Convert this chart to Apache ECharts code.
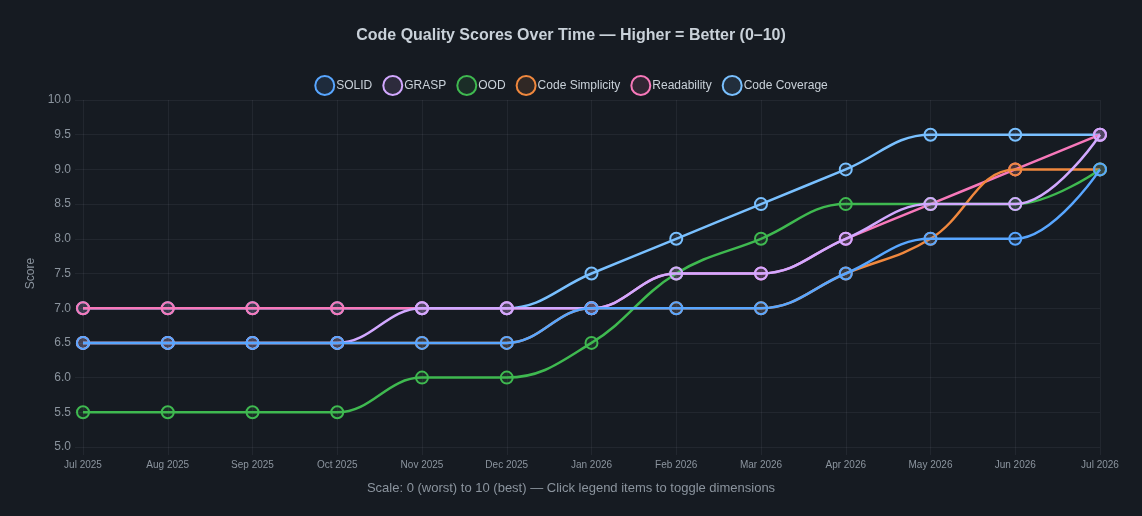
<!DOCTYPE html>
<html>
<head>
    <meta charset="utf-8">
    <title>Code Quality Scores Over Time</title>
    <script src="https://cdn.jsdelivr.net/npm/echarts@6/dist/echarts.min.js"></script>
    <style>
        html, body { margin: 0; padding: 0; background: #161b22; }
        #root { width: 1142px; height: 516px; }
    </style>
</head>
<body>
<div id="root"></div>
<script type="text/javascript">
var months = ['Jul 2025', 'Aug 2025', 'Sep 2025', 'Oct 2025', 'Nov 2025', 'Dec 2025', 'Jan 2026',
    'Feb 2026', 'Mar 2026', 'Apr 2026', 'May 2026', 'Jun 2026', 'Jul 2026'];

var solid = [6.5, 6.5, 6.5, 6.5, 6.5, 6.5, 7.0, 7.0, 7.0, 7.5, 8.0, 8.0, 9.0];
var grasp = [6.5, 6.5, 6.5, 6.5, 7.0, 7.0, 7.0, 7.5, 7.5, 8.0, 8.5, 8.5, 9.5];
var ood = [5.5, 5.5, 5.5, 5.5, 6.0, 6.0, 6.5, 7.5, 8.0, 8.5, 8.5, 8.5, 9.0];
var simplicity = [6.5, 6.5, 6.5, 6.5, 6.5, 6.5, 7.0, 7.0, 7.0, 7.5, 8.0, 9.0, 9.0];
var readability = [7.0, 7.0, 7.0, 7.0, 7.0, 7.0, 7.0, 7.5, 7.5, 8.0, 8.5, 9.0, 9.5];
var coverage = [7.0, 7.0, 7.0, 7.0, 7.0, 7.0, 7.5, 8.0, 8.5, 9.0, 9.5, 9.5, 9.5];

var dims = [
    { name: 'SOLID', data: solid, color: '#58a6ff', fill: 'rgba(88,166,255,0.12)' },
    { name: 'GRASP', data: grasp, color: '#d2a8ff', fill: 'rgba(210,168,255,0.12)' },
    { name: 'OOD', data: ood, color: '#3fb950', fill: 'rgba(63,185,80,0.12)' },
    { name: 'Code Simplicity', data: simplicity, color: '#f0883e', fill: 'rgba(240,136,62,0.12)' },
    { name: 'Readability', data: readability, color: '#f778ba', fill: 'rgba(247,120,186,0.12)' },
    { name: 'Code Coverage', data: coverage, color: '#79c0ff', fill: 'rgba(121,192,255,0.12)' }
];

var gridColor = 'rgba(240,246,252,0.06)';
var font = '"Liberation Sans", Arial, sans-serif';

var myChart = echarts.init(document.getElementById('root'));

var series = dims.map(function(d, i) {
    return {
        name: d.name,
        type: 'line',
        data: d.data,
        smooth: 0.4,
        // first dataset sits on top, like the original
        z: 10 - i,
        symbol: 'circle',
        symbolSize: 12,
        lineStyle: { color: d.color, width: 2.5 },
        itemStyle: { color: d.fill, borderColor: d.color, borderWidth: 2 }
    };
});

var option = {
    backgroundColor: '#161b22',
    textStyle: { fontFamily: font },
    title: {
        text: 'Code Quality Scores Over Time \u2014 Higher = Better (0\u201310)',
        left: 'center',
        top: 23,
        textStyle: { color: '#c9d1d9', fontSize: 16, fontWeight: 'bold', fontFamily: font }
    },
    legend: {
        top: 70,
        left: 'center',
        icon: 'circle',
        itemWidth: 19,
        itemHeight: 19,
        itemGap: 10,
        textStyle: { color: '#c9d1d9', fontSize: 12, padding: [0, 0, 0, -3], fontFamily: font },
        data: dims.map(function(d) {
            return {
                name: d.name,
                itemStyle: { color: d.fill, borderColor: d.color, borderWidth: 2 }
            };
        })
    },
    grid: { left: 83, right: 42, top: 100, bottom: 69 },
    xAxis: {
        type: 'category',
        data: months,
        boundaryGap: false,
        axisLine: { show: false },
        axisTick: { show: true, length: 8, lineStyle: { color: gridColor } },
        splitLine: { show: true, lineStyle: { color: gridColor } },
        axisLabel: { color: '#8b949e', fontSize: 10, margin: 13, fontFamily: font }
    },
    yAxis: {
        type: 'value',
        name: 'Score',
        nameLocation: 'middle',
        nameGap: 46,
        nameTextStyle: { color: '#8b949e', fontSize: 12, fontFamily: font },
        min: 5,
        max: 10,
        interval: 0.5,
        axisLine: { show: false },
        axisTick: { show: true, length: 8, lineStyle: { color: gridColor } },
        splitLine: { lineStyle: { color: gridColor } },
        axisLabel: {
            color: '#8b949e',
            fontSize: 12,
            margin: 12,
            fontFamily: font,
            formatter: function(v) { return v.toFixed(1); }
        }
    },
    graphic: [{
        type: 'text',
        left: 'center',
        top: 482,
        style: {
            text: 'Scale: 0 (worst) to 10 (best) \u2014 Click legend items to toggle dimensions',
            fill: '#8b949e',
            fontSize: 13,
            fontFamily: font
        }
    }],
    series: series
};
myChart.setOption(option, true);
</script>
</body>
</html>
